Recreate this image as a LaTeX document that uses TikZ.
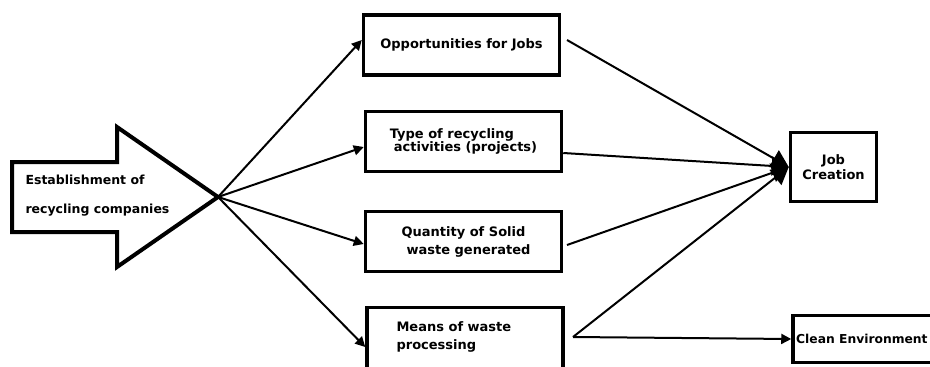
\documentclass[tikz,border=0pt]{standalone}
\usepackage{fontspec}
\setmainfont{DejaVu Sans}
\usetikzlibrary{arrows.meta}

\tikzset{
  box/.style={draw, line width=3.5pt, minimum width=196pt, minimum height=60pt,
    inner sep=0pt, font=\bfseries\fontsize{13}{18}\selectfont},
  link/.style={line width=2pt, -{Triangle[length=10pt,width=10pt]}},
  biglink/.style={line width=2pt, -{Triangle[length=17pt,width=19pt]}}
}

\begin{document}
\begin{tikzpicture}[x=1pt, y=-1pt]
    \useasboundingbox (0,0) rectangle (930,367);
    \clip (0,0) rectangle (930,367);

    % big arrow on the left
    \coordinate (tip) at (218,197);
    \draw[line width=4pt, fill=white, line join=miter]
        (12,162) -- (117,162) -- (117,127) -- (tip) -- (117,267) -- (117,232) -- (12,232) -- cycle;
    \node[anchor=west, align=left, font=\bfseries\fontsize{12.5}{29}\selectfont] (est) at (22,196)
        {Establishment of\\recycling companies};

    % middle boxes
    \node[box, align=center] (jobs) at (461.5,45) {Opportunities for Jobs};
    \node[box, align=left, font=\bfseries\fontsize{13}{13}\selectfont] (type) at (463.5,141.5)
        {Type of recycling\\\hspace*{4pt}activities (projects)};
    \node[box, align=center] (qty) at (463.5,241.5) {Quantity of Solid\\\hspace*{10pt}waste generated};
    \node[box, minimum height=62pt] (means) at (465,338.5) {};
    \node[anchor=north west, align=left, font=\bfseries\fontsize{13}{18}\selectfont] (meanstxt) at (393,318)
        {Means of waste\\processing};

    % right boxes
    \node[box, minimum width=86pt, minimum height=69pt, align=center,
          font=\bfseries\fontsize{13}{15}\selectfont] (job) at (833.5,167) {Job\\Creation};
    \node[box, minimum width=150pt, minimum height=47pt] (clean) at (868,339) {};
    \node[anchor=west, inner sep=0pt, font=\bfseries\fontsize{12.3}{15}\selectfont] (cleantxt) at (796,339)
        {Clean Environment};

    % arrows out of the big arrow
    \draw[link] (tip) -- (jobs.west |- 0,40);
    \draw[link] (tip) -- (type.west |- 0,147);
    \draw[link] (tip) -- (qty.west |- 0,244);
    \draw[link] (tip) -- (means.west |- 0,347);

    % arrows into the outcomes
    \coordinate (fork) at (573,337);
    \draw[biglink] (567,40) -- (job.west);
    \draw[biglink] (type.east |- 0,153) -- (job.west);
    \draw[biglink] (567,245) -- (job.west);
    \draw[biglink] (fork) -- (job.west);
    \draw[link] (fork) -- (clean.west);
\end{tikzpicture}
\end{document}
